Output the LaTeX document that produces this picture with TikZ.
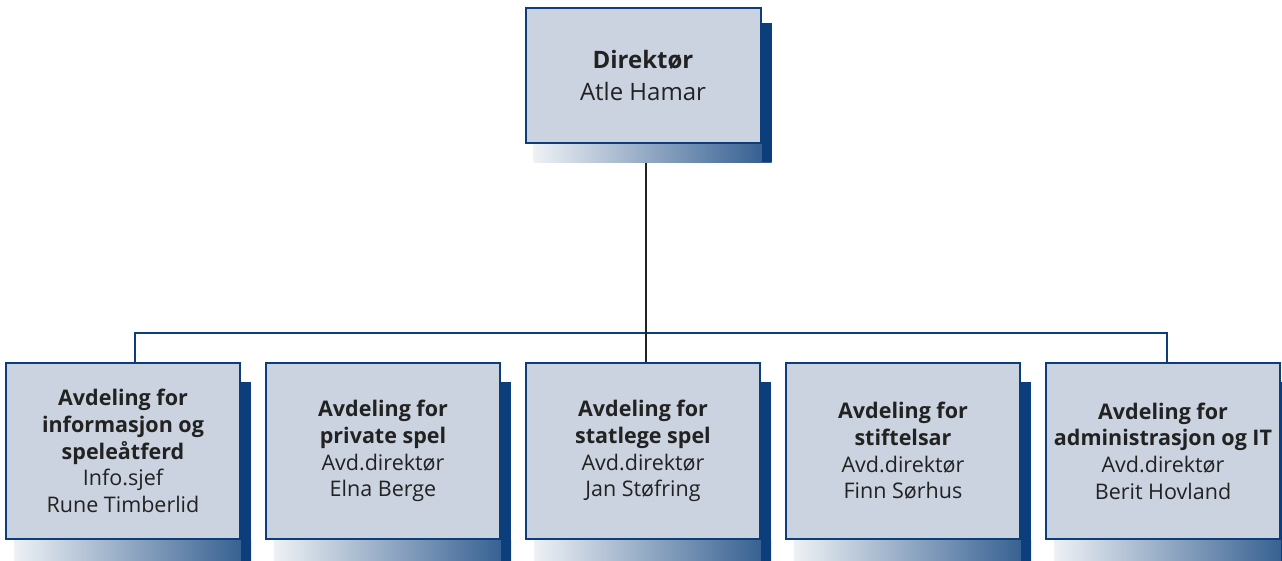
\documentclass[tikz,border=0pt]{standalone}
\usepackage{fontspec}
\setmainfont{Open Sans}
\usetikzlibrary{backgrounds}
\definecolor{navy}{HTML}{0B3E7A}
\definecolor{boxfill}{HTML}{CAD3DF}
\definecolor{pale}{HTML}{EEF1F5}
\definecolor{ink}{HTML}{222222}
\newcommand\boxshade[3]{%
  \shade[left color=pale, right color=navy!85] ([xshift=9pt]#1.south west) rectangle ([xshift=10pt,yshift=-#2]#1.south east);
  \fill[navy] ([yshift=-#3]#1.north east) rectangle ([xshift=10pt,yshift=-#2]#1.south east);
}
\begin{document}
\begin{tikzpicture}[x=1pt,y=-1pt,
  orgbox/.style={draw=navy, line width=2pt, fill=boxfill, minimum width=234pt, minimum height=176pt,
    inner sep=0pt, align=center, anchor=north west, text=ink, font=\fontsize{21.5}{26.7}\selectfont},
  topbox/.style={orgbox, minimum width=235pt, minimum height=135pt, font=\fontsize{24}{32}\selectfont},
  link/.style={draw=navy, line width=2pt},
  stem/.style={draw=ink, line width=2pt}]
\useasboundingbox (0,0) rectangle (1282,560);
\clip (0,0) rectangle (1282,560);
\node[topbox] (top) at (524.5,7) {\textbf{Direktør}\\Atle Hamar};
\node[orgbox] (b1) at (5,362) {\textbf{Avdeling for}\\\textbf{informasjon og}\\\textbf{speleåtferd}\\Info.sjef\\Rune Timberlid};
\node[orgbox] (b2) at (265,362) {\textbf{Avdeling for}\\\textbf{private spel}\\Avd.direktør\\Elna Berge};
\node[orgbox] (b3) at (525,362) {\textbf{Avdeling for}\\\textbf{statlege spel}\\Avd.direktør\\Jan Støfring};
\node[orgbox] (b4) at (785,362) {\textbf{Avdeling for}\\\textbf{stiftelsar}\\Avd.direktør\\Finn Sørhus};
\node[orgbox] (b5) at (1045,362) {\textbf{Avdeling for}\\\textbf{administrasjon og IT}\\Avd.direktør\\Berit Hovland};
\begin{scope}[on background layer]
  \draw[link] ([xshift=12pt]b1.north) -- ++(0,-29) -| ([xshift=4pt]b5.north);
  \draw[stem] ([xshift=3pt]top.south) -- ([xshift=3pt]b3.north);
  \boxshade{top}{18pt}{16pt}
  \boxshade{b1}{24pt}{20pt}
  \boxshade{b2}{24pt}{20pt}
  \boxshade{b3}{24pt}{20pt}
  \boxshade{b4}{24pt}{20pt}
  \boxshade{b5}{24pt}{20pt}
\end{scope}
\end{tikzpicture}
\end{document}
